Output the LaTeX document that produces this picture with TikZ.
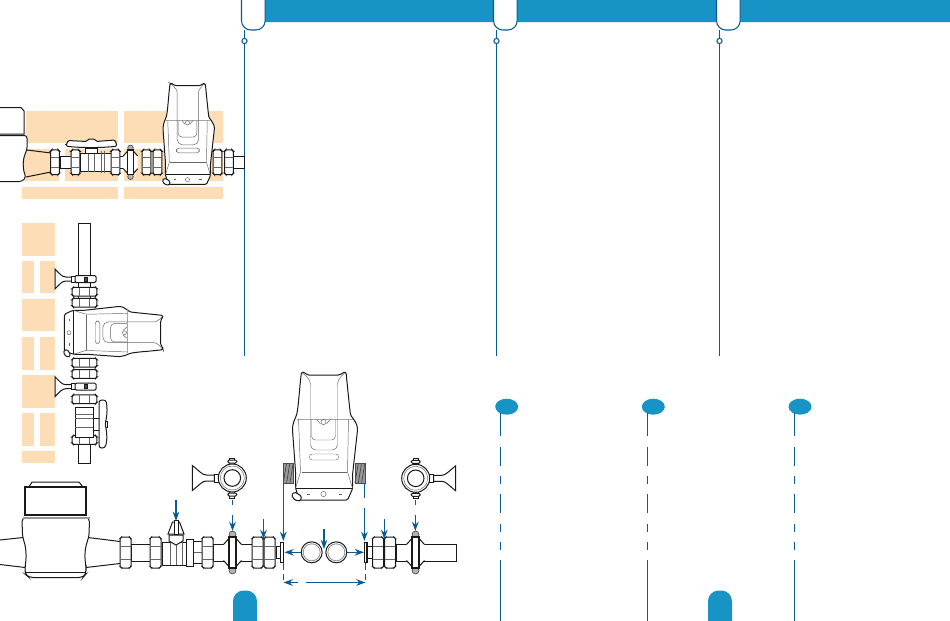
\documentclass[tikz,border=0pt]{standalone}
\usepackage{tikz}
\usetikzlibrary{arrows.meta}
\definecolor{wallorange}{HTML}{FDDDB6}
\definecolor{headblue}{HTML}{1793C6}
\definecolor{lineblue}{HTML}{0B5A96}
\tikzset{
    pipeline/.style={line width=.75pt, draw=black!90, fill=white},
    thinline/.style={line width=.35pt, draw=black!60},
    brick/.style={fill=wallorange, draw=none},
    blueline/.style={line width=.8pt, draw=lineblue},
    bluearrow/.style={blueline, -{Stealth[length=7pt,width=5pt]}},
    screwhead/.style={line width=.4pt, draw=black!80, fill=black!30}
}
\tikzset{
    nut/.pic={
        \draw[pipeline, rounded corners=.8pt] (-5.5,-14) -- (-4,-15.5) -- (4,-15.5) -- (5.5,-14)
            -- (5.5,14) -- (4,15.5) -- (-4,15.5) -- (-5.5,14) -- cycle;
        \draw[thinline] (-5,-6.5) -- (5,-6.5) (-5,6.5) -- (5,6.5);
    },
    clampside/.pic={
        \fill[white] (-9,-8) -- (-3.5,-14) -- (3.5,-14) -- (9,-8) -- (9,8) -- (3.5,14) -- (-3.5,14) -- (-9,8) -- cycle;
        \draw[line width=.75pt, draw=black!90] (-9,-8) -- (-3.5,-14) (9,-8) -- (3.5,-14) (-9,8) -- (-3.5,14) (9,8) -- (3.5,14);
        \draw[screwhead] (0,-18) circle [radius=3.5] (0,18) circle [radius=3.5];
        \draw[pipeline, line width=1.1pt] (-3.7,-15.5) rectangle (3.7,15.5);
    },
    clampring/.pic={
        \draw[pipeline] (-40,-12.5) -- (-40,12.5) .. controls (-33,7) and (-30,3) .. (-26,3)
            -- (-18,3) -- (-18,-3) -- (-26,-3) .. controls (-30,-3) and (-33,-7) .. (-40,-12.5) -- cycle;
        \draw[pipeline] (-18,-4) rectangle (-13,4);
        \draw[pipeline] (-2.5,-20) rectangle (2.5,20);
        \draw[pipeline, rounded corners=1pt] (-4.5,-18) rectangle (4.5,-15) (-4.5,15) rectangle (4.5,18);
        \draw[pipeline] (0,0) circle [radius=14];
        \draw[pipeline] (0,0) circle [radius=8.3];
        \draw[thinline] (0,0) circle [radius=12];
    },
    wallclamp/.pic={
        \draw[pipeline] (-30,-10) -- (-30,10) .. controls (-25,5) and (-23,2) .. (-19,2)
            -- (-12,2) -- (-12,-2) -- (-19,-2) .. controls (-23,-2) and (-25,-5) .. (-30,-10) -- cycle;
        \draw[pipeline] (-14,-3) rectangle (-10,3);
        \draw[pipeline, rounded corners=1pt] (-10,-3.5) rectangle (11,3.5);
        \draw[pipeline, fill=black!70] (-1,-2) rectangle (2,2);
    },
    gauge/.pic={
        \draw[pipeline, rounded corners=1pt] (-22,0) .. controls (-24,15) and (-25,35) .. (-27,43)
            .. controls (-29,48) and (-31,52) .. (-31,58) -- (-28,99) -- (-28,116) -- (-24,128) -- (24,128)
            -- (29,117) -- (29,103) -- (34,58) .. controls (34,52) and (30,47) .. (27,43)
            .. controls (26,35) and (24,15) .. (22.5,0) -- (20,.5) -- (16,3) -- (-16,3) -- (-19,.5) -- cycle;
        \draw[pipeline, rounded corners=1pt] (-29,120) -- (-32,123) -- (-29,128) -- (-23,129) -- (-22,124) -- cycle;
        \draw[line width=.35pt, draw=black!35] (-27,47) -- (29,47);
        \draw[thinline, rounded corners=4pt] (-21,1) .. controls (-15,5) and (-13,10) .. (-13,18) -- (-13,78) -- (14,78) -- (14,18) .. controls (14,10) and (16,5) .. (21,1);
        \draw[thinline, rounded corners=3pt] (-12,47) -- (-12,68) -- (12,68) -- (12,47);
        \draw[thinline] (-7,47) -- (-3,52) (3,52) -- (7,47);
        \draw[thinline] (0,50) circle [radius=2.6];
        \draw[thinline, rounded corners=2pt] (-14,82) rectangle (15,88);
        \draw[thinline] (-25,47) -- (-23,100) (25,47) -- (24,100);
        \draw[thinline] (-23,100) -- (-28,116) (24,100) -- (29,116);
        \draw[line width=.7pt, draw=black!90] (-28,116) -- (29,116);
        \draw[thinline] (-22,100) -- (23,100);
        \draw[thinline] (0,122) circle [radius=2.6];
        \draw[thinline] (-17,122) -- (-14,122) (15,122) -- (18,122);
    }
}

\begin{document}
\begin{tikzpicture}[x=.75pt,y=-.75pt]
  \useasboundingbox (0,0) rectangle (950,621);

  \fill[headblue] (265,0) rectangle (494,22) (517,0) rectangle (717,22) (740,0) rectangle (950,22);
  \foreach \tabx/\linex in {241.5/244.5, 493.5/496.5, 716.5/719.5} {
    \draw[blueline, fill=white, rounded corners=7pt] (\tabx,-12) -- (\tabx,30) -- (\tabx+23.7,30) -- (\tabx+23.7,-12);
    \draw[blueline] (\linex,30) -- (\linex,38.5) (\linex,43.5) -- (\linex,356);
    \draw[blueline] (\linex,41) circle [radius=2.6];
  }

  \foreach \dotx/\linex in {506.7/500.3, 653.3/647.3, 800/794.3} {
    \fill[headblue] (\dotx,406.7) ellipse [x radius=11.5, y radius=8];
    \draw[blueline] (\linex,413) -- (\linex,436) (\linex,447) -- (\linex,466)
        (\linex,476) -- (\linex,484) (\linex,494) -- (\linex,513)
        (\linex,524) -- (\linex,532) (\linex,542) -- (\linex,550) (\linex,560) -- (\linex,621);
  }
  \foreach \tabx in {233, 708}
    \fill[headblue, rounded corners=8pt] (\tabx,640) -- (\tabx,590.5) -- (\tabx+24,590.5) -- (\tabx+24,640) -- cycle;

  \foreach \xa/\ya/\xb/\yb in {26/111/118/143, 124/111/223/143, 22/149/59/181, 65/149/118/181, 124/149/170/181,
      176/149/223/181, 22/187/118/199, 124/187/223/199, 22/223/55/256, 22/261/34/293, 40/261/55/293, 22/299/55/331,
      22/337/34/370, 40/337/55/370, 22/375/55/408, 22/413/34/446, 40/413/55/446, 22/451/55/463}
    \fill[brick] (\xa,\ya) rectangle (\xb,\yb);

  \draw[pipeline] (0,107.5) -- (21,107.5) -- (24,111) -- (24,134) -- (0,134);
  \draw[pipeline, rounded corners=2pt] (0,135.5) -- (27,135.5) -- (27,150) .. controls (22,160) and (23,170) .. (26,177) -- (22,181.5) -- (0,181.5);
  \draw[pipeline, fill=none] (27,150) -- (51,153) (26,177) -- (51,172);
  \draw[pipeline] (60,156.5) rectangle (71,168);
  \draw[pipeline] (119,156.5) rectangle (127,168);
  \draw[pipeline] (233,156) rectangle (244.5,168);
  \draw[pipeline] (80,153) rectangle (111,171.5);
  \draw[thinline] (88,153) -- (88,171.5) (94,153) -- (94,171.5) (101,151) -- (101,173) (104,151) -- (104,173);
  \draw[pipeline] (85,148) rectangle (97,153);
  \draw[pipeline, rounded corners=1pt] (66,146) -- (68,140.5) -- (87,141.5) -- (88,139) -- (95,139) -- (96,141.5) -- (115,140) -- (117,146)
      .. controls (105,148) and (78,148) .. (66,146) -- cycle;
  \foreach \nutx in {55, 75.5, 115.5, 146.5, 157.5, 217.5, 229}
    \pic[scale=.8] at (\nutx,162.3) {nut};
  \pic[scale=.8] at (130.5,162.3) {clampside};
  \pic[scale=.79] at (187.5,83.3) {gauge};

  \draw[pipeline] (78.5,223) rectangle (90,300);
  \draw[pipeline] (78.5,440) rectangle (90,463);
  \foreach \nuty in {291.7, 302.7, 362.7, 374, 399.3, 440}
    \pic[scale=.8, rotate=90] at (84.5,\nuty) {nut};
  \pic[scale=.77, rotate=-90, xscale=-1] at (163,332.7) {gauge};
  \pic at (85,279) {wallclamp};
  \pic at (85,386.7) {wallclamp};
  \draw[pipeline] (75,407) rectangle (93,437);
  \draw[thinline] (75,414) -- (93,414) (75,418) -- (93,418) (75,427) -- (93,427);
  \draw[pipeline] (93,418) rectangle (100,430);
  \draw[pipeline] (100,421) rectangle (107,427);
  \draw[pipeline, rounded corners=2pt] (99,400) -- (106,400) .. controls (108,412) and (106,420) .. (105,424)
      .. controls (106,428) and (108,438) .. (105,448) -- (99,448) -- cycle;

  \draw[pipeline] (29,487) -- (32,482) -- (79,482) -- (83,487) -- cycle;
  \draw[pipeline, line width=1pt] (25,487) rectangle (86,515);
  \draw[pipeline, fill=none] (0,540) -- (23,537.5) (0,564.5) -- (25,567.5) (88,537.5) -- (120,541.5) (86,567.5) -- (120,563.5);
  \draw[pipeline, rounded corners=3pt] (22,517.5) -- (22.5,537) .. controls (27,550) and (26,560) .. (25,568) -- (25,574) -- (29,577.5)
      -- (83,577.5) -- (86,574) -- (86,567) .. controls (85,560) and (84,550) .. (89,537) -- (89.5,517.5) -- cycle;
  \draw[line width=1.5pt, draw=black!40] (22.5,517.5) -- (89.5,517.5);
  \draw[line width=.75pt, draw=black!90] (25,572.3) -- (86,572.3);
  \draw[pipeline] (131,544.3) rectangle (150,561);
  \draw[pipeline] (213,544.3) rectangle (228,561);
  \draw[pipeline] (237,544.3) rectangle (252,561);
  \draw[pipeline] (276,546.5) rectangle (280,558);
  \draw[pipeline] (162,542) rectangle (186,565);
  \draw[thinline] (170,542) -- (170,565) (176,542) -- (176,565) (182,542) -- (182,565);
  \draw[pipeline] (186,539) rectangle (193.5,566);
  \draw[pipeline] (193.5,541) rectangle (202,563);
  \draw[thinline] (193.5,552) -- (202,552);
  \draw[pipeline] (169,535) -- (169,541) -- (176,545) -- (183,541) -- (183,535) -- cycle;
  \draw[pipeline] (168,534) -- (172.5,522) -- (179.5,522) -- (184,534) -- cycle;
  \draw[pipeline] (174,520.5) rectangle (178.5,534);
  \foreach \nutx in {125.5, 155.5, 207.5, 257.5, 269.5}
    \pic at (\nutx,552.5) {nut};
  \pic at (232.5,552.5) {clampside};
  \pic at (232.3,478) {clampring};
  \draw[pipeline, line width=1pt] (280.5,542.3) rectangle (283.7,562.3);

  \draw[pipeline] (367.5,546.5) rectangle (372.5,558);
  \draw[pipeline] (396,544) -- (456,544) -- (456,561) -- (396,561) -- cycle;
  \draw[pipeline, line width=1pt] (364.5,542.3) rectangle (367,562.3);
  \foreach \nutx in {378, 390}
    \pic at (\nutx,552.5) {nut};
  \pic at (415.5,552.5) {clampside};
  \pic[xscale=-1] at (415.7,478.3) {clampring};

  \foreach \threadx in {283.3, 355} {
    \fill[black!40] (\threadx,463) rectangle (\threadx+10,483);
    \foreach \i in {0,3.3,6.6}
      \draw[line width=.5pt, draw=black!75] (\threadx+\i,483) -- (\threadx+\i+3.3,463);
    \draw[line width=.5pt, draw=black!70] (\threadx,463) rectangle (\threadx+10,483);
  }
  \pic at (323.5,372) {gauge};

  \draw[pipeline, fill=white] (311.7,552.3) circle [radius=10.5];
  \draw[thinline, draw=black!45, line width=.6pt] (311.7,552.3) circle [radius=8.5];
  \draw[pipeline, fill=white] (336.3,552.3) circle [radius=10.5];
  \draw[thinline, draw=black!45, line width=.6pt] (336.3,552.3) circle [radius=8.5];

  \draw[bluearrow] (176,500) -- (176,521);
  \draw[blueline] (232.5,500) -- (232.5,505) (415.3,500) -- (415.3,505) (364.4,483) -- (364.4,498);
  \draw[bluearrow] (232.5,515) -- (232.5,531);
  \draw[bluearrow] (415.3,515) -- (415.3,531);
  \draw[bluearrow] (263.5,519) -- (263.5,539);
  \draw[bluearrow] (384.3,519) -- (384.3,539);
  \draw[bluearrow] (283.3,483) -- (283.3,541);
  \draw[bluearrow] (364.4,508) -- (364.4,541);
  \draw[bluearrow] (324,529) -- (324,549);
  \draw[bluearrow] (301.2,552.3) -- (284.5,552.3);
  \draw[bluearrow] (346.8,552.3) -- (364,552.3);
  \draw[bluearrow] (298,582.5) -- (283.5,582.5);
  \draw[bluearrow] (306,582.5) -- (365.5,582.5);
  \draw[blueline, dash pattern=on 5pt off 3pt] (283.5,563) -- (283.5,582) (365.5,563) -- (365.5,582);
\end{tikzpicture}
\end{document}
